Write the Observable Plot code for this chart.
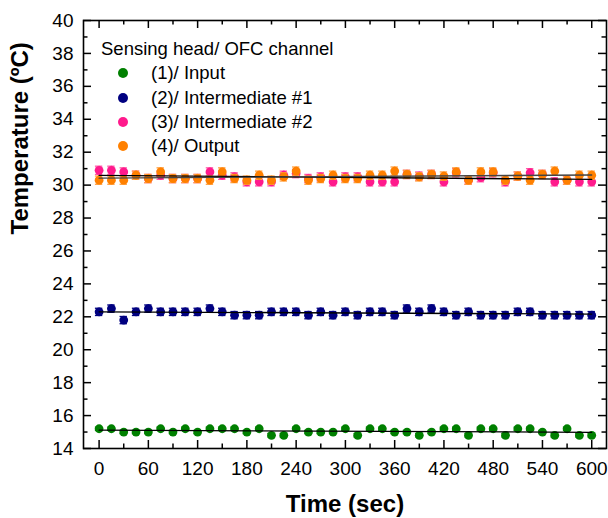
<!DOCTYPE html>
<html><head><meta charset="utf-8">
<script src="https://cdn.jsdelivr.net/npm/d3@7"></script>
<script src="https://cdn.jsdelivr.net/npm/@observablehq/plot@0.6"></script>
<style>
body{margin:0;background:#fff;font-family:"Liberation Sans",Arial,sans-serif}
#wrap{position:relative;width:608px;height:518px}
#legend{position:absolute;left:101px;top:37px;font-size:18.5px;line-height:24.3px;color:#000;white-space:nowrap}
#legend .item{position:relative;height:24.3px;padding-left:50px}
#legend .sw{position:absolute;left:17px;top:7px;width:10px;height:10px;border-radius:50%}
</style></head><body>
<div id="wrap"><div id="chart"></div><div id="legend"></div></div>
<script>
const times = [0,15,30,45,60,75,90,105,120,135,150,165,180,195,210,225,240,255,270,285,300,315,330,345,360,375,390,405,420,435,450,465,480,495,510,525,540,555,570,585,600];
const input = [15.2,15.2,15.0,15.0,15.0,15.2,15.0,15.2,15.0,15.2,15.2,15.2,15.0,15.2,14.8,14.8,15.2,15.0,15.0,15.0,15.2,14.8,15.2,15.2,15.0,15.0,14.8,15.0,15.2,15.2,14.8,15.2,15.2,14.8,15.2,15.2,15.0,14.8,15.2,14.8,14.8];
const inter1 = [22.3,22.5,21.8,22.3,22.5,22.3,22.3,22.3,22.3,22.5,22.3,22.1,22.1,22.1,22.3,22.3,22.3,22.1,22.3,22.1,22.3,22.1,22.3,22.3,22.1,22.5,22.3,22.5,22.3,22.1,22.3,22.1,22.1,22.1,22.3,22.3,22.1,22.1,22.1,22.1,22.1];
const inter2 = [30.9,30.9,30.8,30.6,30.4,30.6,30.4,30.4,30.4,30.8,30.6,30.5,30.2,30.2,30.2,30.6,30.7,30.4,30.5,30.2,30.5,30.5,30.2,30.2,30.2,30.65,30.55,30.65,30.2,30.75,30.3,30.45,30.75,30.2,30.55,30.75,30.65,30.2,30.3,30.2,30.2];
const output = [30.3,30.3,30.3,30.6,30.4,30.8,30.4,30.4,30.4,30.3,30.8,30.4,30.3,30.6,30.3,30.5,30.85,30.3,30.4,30.6,30.4,30.4,30.6,30.6,30.85,30.65,30.5,30.65,30.55,30.8,30.3,30.8,30.8,30.3,30.55,30.3,30.65,30.85,30.3,30.6,30.6];
const errors = [0.1, 0.22, 0.25, 0.25];
const names = ["(1)/ Input","(2)/ Intermediate #1","(3)/ Intermediate #2","(4)/ Output"];
const colors = ["#008000","#000080","#ff1a8c","#ff8000"];
const errColors = ["#008000","#000080","#ff5aa8","#ffa040"];
const fitColors = ["#000","#000","#000","#444"];
const legendTitle = "Sensing head/ OFC channel";
const xLabel = "Time (sec)";
const yLabel = "Temperature (ºC)";
const xMajor = [0,60,120,180,240,300,360,420,480,540,600];
const xMinor = [30,90,150,210,270,330,390,450,510,570];
const yMajor = [14,16,18,20,22,24,26,28,30,32,34,36,38,40];
const yMinor = [15,17,19,21,23,25,27,29,31,33,35,37,39];

const seriesValues = [input, inter1, inter2, output];
const W = 608, H = 518, mL = 83, mR = 2, mT = 20, mB = 70;
const iW = W - mL - mR, iH = H - mT - mB;
const major = 8, minor = 4.5;

const marks = [
  Plot.axisX(xMajor, {tickSize: 0, tickPadding: 13, fontSize: 19, label: null}),
  Plot.axisY(yMajor, {tickSize: 0, tickPadding: 10, fontSize: 19, label: null}),
  Plot.tickX(xMajor, {x: d => d, insetTop: iH - major, strokeWidth: 1.5}),
  Plot.tickX(xMajor, {x: d => d, insetBottom: iH - major, strokeWidth: 1.5}),
  Plot.tickX(xMinor, {x: d => d, insetTop: iH - minor, strokeWidth: 1.5}),
  Plot.tickX(xMinor, {x: d => d, insetBottom: iH - minor, strokeWidth: 1.5}),
  Plot.tickY(yMajor, {y: d => d, insetRight: iW - major, strokeWidth: 1.5}),
  Plot.tickY(yMajor, {y: d => d, insetLeft: iW - major, strokeWidth: 1.5}),
  Plot.tickY(yMinor, {y: d => d, insetRight: iW - minor, strokeWidth: 1.5}),
  Plot.tickY(yMinor, {y: d => d, insetLeft: iW - minor, strokeWidth: 1.5})
];
const allRows = [];
seriesValues.forEach((vals, i) => {
  const rows = times.map((t, j) => ({t, v: vals[j], e: errors[i]}));
  allRows.push(rows);
  marks.push(
    Plot.ruleX(rows, {x: "t", y1: d => d.v - d.e, y2: d => d.v + d.e, stroke: errColors[i], strokeWidth: 1.3}),
    Plot.ruleY(rows, {y: d => d.v + d.e, x1: d => d.t - 4.5, x2: d => d.t + 4.5, stroke: errColors[i], strokeWidth: 1.3}),
    Plot.ruleY(rows, {y: d => d.v - d.e, x1: d => d.t - 4.5, x2: d => d.t + 4.5, stroke: errColors[i], strokeWidth: 1.3}),
    Plot.dot(rows, {x: "t", y: "v", r: 4.4, fill: colors[i]})
  );
});
allRows.forEach((rows, i) => {
  marks.push(Plot.linearRegressionY(rows, {x: "t", y: "v", stroke: fitColors[i], strokeWidth: 1.3, ci: 0}));
});
marks.push(
  Plot.frame({stroke: "black", strokeWidth: 1.6}),
  Plot.text([xLabel], {frameAnchor: "bottom", dy: 63, fontSize: 24, fontWeight: "bold"}),
  Plot.text([yLabel], {frameAnchor: "left", dx: -63, rotate: -90, fontSize: 24, fontWeight: "bold"})
);

const chart = Plot.plot({
  width: W, height: H, marginLeft: mL, marginRight: mR, marginTop: mT, marginBottom: mB,
  x: {domain: [-19, 618]},
  y: {domain: [14, 40]},
  style: {fontFamily: "Liberation Sans, Arial, sans-serif", background: "white", color: "black", overflow: "visible"},
  marks
});
document.getElementById("chart").appendChild(chart);

const lg = document.getElementById("legend");
const title = document.createElement("div");
title.textContent = legendTitle;
lg.appendChild(title);
names.forEach((n, i) => {
  const it = document.createElement("div");
  it.className = "item";
  const sw = document.createElement("span");
  sw.className = "sw";
  sw.style.background = colors[i];
  it.appendChild(sw);
  it.appendChild(document.createTextNode(n));
  lg.appendChild(it);
});
</script>
</body></html>
